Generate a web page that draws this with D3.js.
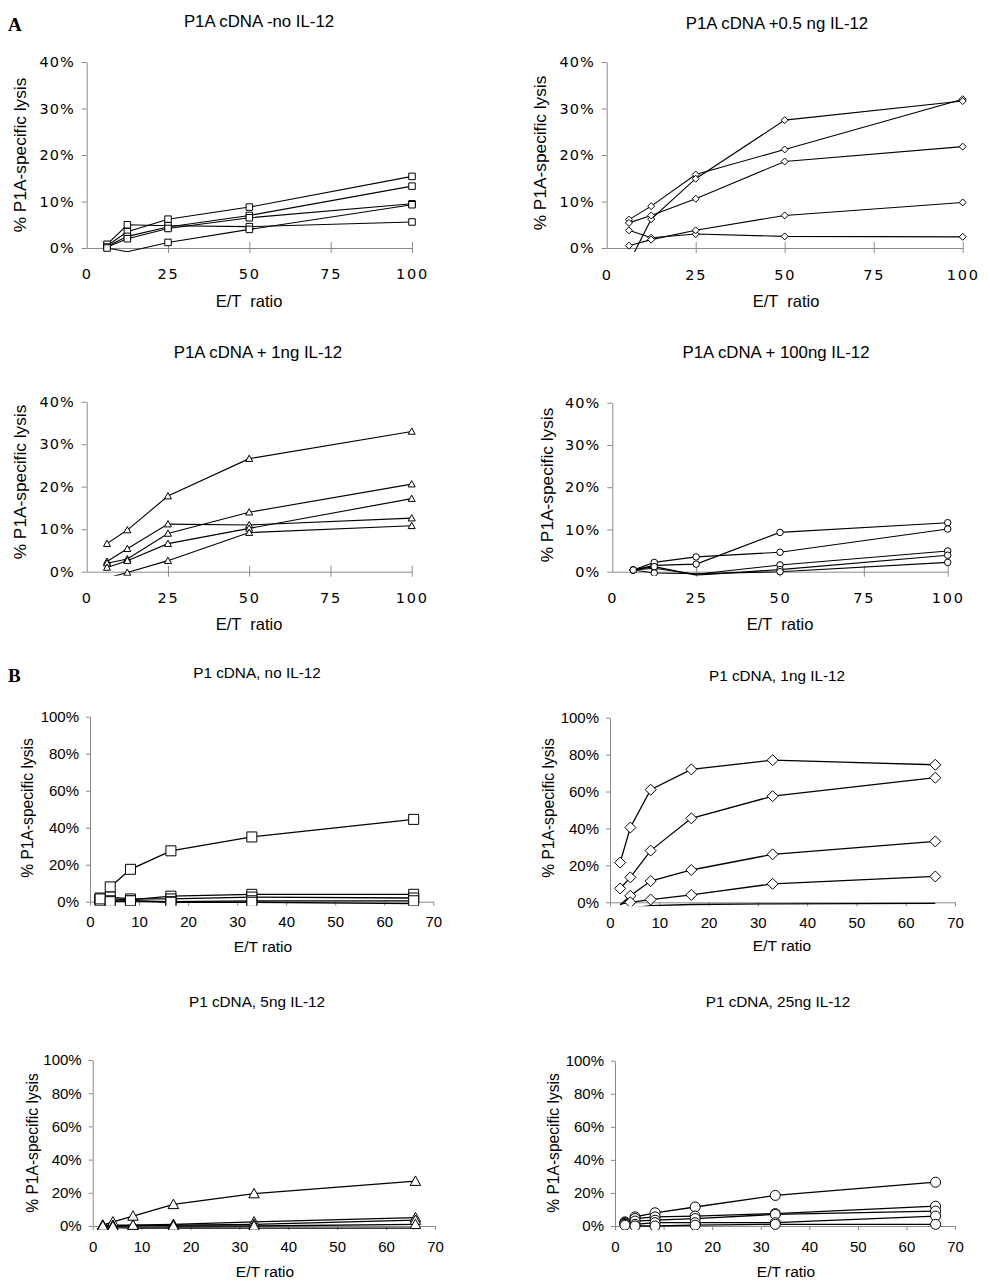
<!DOCTYPE html>
<html><head><meta charset="utf-8">
<script src="https://cdn.jsdelivr.net/npm/d3@7"></script>
<style>
body{margin:0;background:#fff;}
svg{display:block;}
</style></head>
<body>
<svg id="chart" width="990" height="1286"></svg>
<script>
// ---------------- DATA ----------------
const xA = [6.25, 12.5, 25, 50, 100];
const xB = [2.06, 4.125, 8.25, 16.5, 33, 66];

const xTicksA = [0, 25, 50, 75, 100];
const yTicksA = [0, 10, 20, 30, 40];
const xTicksB = [0, 10, 20, 30, 40, 50, 60, 70];
const yTicksB = [0, 20, 40, 60, 80, 100];

const titles = [
  "P1A cDNA -no IL-12", "P1A cDNA +0.5 ng IL-12",
  "P1A cDNA + 1ng IL-12", "P1A cDNA + 100ng IL-12",
  "P1 cDNA, no IL-12", "P1 cDNA, 1ng IL-12",
  "P1 cDNA, 5ng IL-12", "P1 cDNA, 25ng IL-12"
];
const yAxisLabel = "% P1A-specific lysis";
const xAxisLabelA = "E/T  ratio";
const xAxisLabelB = "E/T ratio";
const panelLetters = ["A", "B"];

// % lysis, one array per effector line
const a1Series = [
  [0.5, 3.5, 6.2, 8.8, 15.4],
  [0.3, 2.5, 4.5, 7.0, 13.3],
  [0.8, 5.0, 4.8, 4.6, 5.6],
  [0.2, 2.0, 4.2, 6.5, 9.5],
  [0.0, -0.8, 1.2, 4.0, 9.3]
];
const a2Series = [
  [6.1, 9.0, 15.8, 21.2, 32.0],
  [-3.2, 6.2, 14.9, 27.5, 31.6],
  [5.4, 7.0, 10.6, 18.6, 21.8],
  [3.8, 2.2, 3.0, 2.5, 2.4],
  [0.5, 1.8, 3.8, 7.0, 9.8]
];
const a3Series = [
  [6.6, 9.8, 17.8, 26.6, 33.0],
  [2.4, 5.4, 11.2, 11.0, 12.6],
  [2.0, 3.0, 9.0, 14.0, 20.6],
  [1.0, 2.6, 6.6, 10.2, 17.2],
  [-1.5, -0.2, 2.6, 9.2, 10.8]
];
const a4Series = [
  [0.4, 1.5, 1.8, 9.3, 11.6],
  [0.4, 2.2, 3.5, 4.6, 10.1],
  [0.4, 0.8, -0.6, 1.6, 4.9],
  [0.4, 1.2, -0.8, 0.5, 3.9],
  [0.4, -0.3, -0.5, 0.0, 2.2]
];
const b1Series = [
  [1.0, 8.0, 17.5, 27.5, 35.0, 44.5],
  [2.0, 1.5, 1.0, 3.0, 4.0, 4.0],
  [1.0, 2.5, 1.5, 1.5, 2.5, 2.0],
  [0.5, 0.5, 0.5, 0.0, 0.5, 0.5],
  [1.5, 0.0, 0.5, -0.3, -0.3, -1.0]
];
const b2Series = [
  [21.5, 40.5, 61.0, 72.0, 77.0, 74.5],
  [7.5, 13.5, 28.0, 45.5, 57.5, 67.5],
  [-1.5, 3.5, 11.5, 17.5, 26.0, 33.0],
  [-1.0, 0.0, 1.5, 4.0, 10.0, 14.0],
  [-4.0, -3.2, -1.8, -1.2, -0.8, -0.6]
];
const b3Series = [
  [0.5, 2.5, 6.0, 13.0, 19.5, 27.0],
  [0.5, 0.5, 0.5, 1.0, 2.5, 5.0],
  [0.2, 0.0, 0.0, 0.5, 1.0, 3.5],
  [0.0, -0.3, 0.5, 0.0, 0.0, 1.0],
  [0.0, -1.0, -1.2, -1.2, -1.3, -1.3]
];
const b4Series = [
  [2.5, 5.5, 8.0, 11.5, 18.5, 26.5],
  [2.0, 4.5, 5.5, 6.0, 7.5, 12.0],
  [1.5, 3.0, 3.5, 4.5, 7.0, 9.0],
  [1.0, 1.0, 2.0, 2.0, 2.0, 6.0],
  [0.5, 0.0, 0.0, 0.5, 1.0, 1.0]
];

// ---------------- LAYOUT ----------------
const svg = d3.select("#chart");

const customSquare = {draw(ctx, size){const r = Math.sqrt(size)/2; ctx.rect(-r,-r,2*r,2*r);}};
const customDiamond = {draw(ctx, size){const r = Math.sqrt(size)/2; ctx.moveTo(0,-r); ctx.lineTo(r,0); ctx.lineTo(0,r); ctx.lineTo(-r,0); ctx.closePath();}};
const customTriangle = {draw(ctx, size){const r = Math.sqrt(size)/2; ctx.moveTo(0,-r); ctx.lineTo(r,r*0.8); ctx.lineTo(-r,r*0.8); ctx.closePath();}};
const customCircle = {draw(ctx, size){const r = Math.sqrt(size)/2; ctx.moveTo(r,0); ctx.arc(0,0,r,0,2*Math.PI);}};

const panels = [
  {series:a1Series, xs:xA, type:"A", sym:customSquare, ms:6.5,
   x0:86.7, x1:412, yT:62, yB:248, tX:259, tY:27, tkY:279, xlX:249, xlY:307, ylX:20, ylY:155},
  {series:a2Series, xs:xA, type:"A", sym:customDiamond, ms:7,
   x0:606.7, x1:962.7, yT:62, yB:248, tX:777, tY:29, tkY:280, xlX:786, xlY:307, ylX:540, ylY:153},
  {series:a3Series, xs:xA, type:"A", sym:customTriangle, ms:7,
   x0:86.7, x1:411.7, yT:401.7, yB:571.7, tX:258, tY:358, tkY:603, xlX:249, xlY:630, ylX:20, ylY:482},
  {series:a4Series, xs:xA, type:"A", sym:customCircle, ms:6.5,
   x0:612.3, x1:947.7, yT:402.7, yB:571.7, tX:776, tY:358, tkY:603, xlX:780, xlY:630, ylX:547, ylY:485},
  {series:b1Series, xs:xB, type:"B", sym:customSquare, ms:10,
   x0:90, x1:433.3, yT:716.7, yB:901.7, tX:257, tY:678, tkY:927, xlX:263, xlY:952, ylX:27, ylY:808},
  {series:b2Series, xs:xB, type:"B", sym:customDiamond, ms:11,
   x0:610, x1:955, yT:717.7, yB:902.3, tX:777, tY:681, tkY:928, xlX:782, xlY:951, ylX:548, ylY:808},
  {series:b3Series, xs:xB, type:"B", sym:customTriangle, ms:10.5,
   x0:92.7, x1:435, yT:1060, yB:1226, tX:257, tY:1007, tkY:1252, xlX:265, xlY:1277, ylX:32, ylY:1143},
  {series:b4Series, xs:xB, type:"B", sym:customCircle, ms:10,
   x0:615, x1:955, yT:1060.7, yB:1226, tX:778, tY:1007, tkY:1252, xlX:786, xlY:1277, ylX:553, ylY:1143}
];

const axisColor = "#8a8a8a";
const fontA = "'Liberation Sans', Arial, sans-serif";
const tickFontA = "'DejaVu Sans', 'Liberation Sans', sans-serif";

panels.forEach((p, i) => {
  const isA = p.type === "A";
  const x = d3.scaleLinear().domain([0, isA ? 100 : 70]).range([p.x0, p.x1]);
  const y = d3.scaleLinear().domain([0, isA ? 40 : 100]).range([p.yB, p.yT]);
  const g = svg.append("g");

  // title
  g.append("text").attr("x", p.tX).attr("y", p.tY).attr("text-anchor", "middle")
    .style("font-family", fontA).style("font-size", isA ? "16.8px" : "15.3px").text(titles[i]);

  // y axis
  const yAx = g.append("g").attr("transform", `translate(${p.x0},0)`)
    .call(d3.axisLeft(y).tickValues(isA ? yTicksA : yTicksB).tickSizeOuter(0).tickSizeInner(isA ? 5 : 4)
      .tickFormat(d => d + "%"));
  yAx.select(".domain").attr("stroke", axisColor);
  yAx.selectAll(".tick line").attr("stroke", axisColor);
  yAx.selectAll(".tick text")
    .attr("x", isA ? -12 : -11)
    .style("font-family", isA ? tickFontA : fontA)
    .style("font-size", isA ? "14.5px" : "15px")
    .style("letter-spacing", isA ? "1px" : "0px")
    .attr("fill", "#000");

  // x axis
  const xAx = g.append("g").attr("transform", `translate(0,${p.yB})`)
    .call(d3.axisBottom(x).tickValues(isA ? xTicksA : xTicksB).tickSizeOuter(0).tickSizeInner(isA ? 5 : 4));
  xAx.select(".domain").attr("stroke", axisColor);
  xAx.selectAll(".tick line").attr("stroke", axisColor);
  if (isA) {
    xAx.selectAll(".tick line").attr("y1", -6).attr("y2", 5);
    xAx.selectAll(".tick").filter(d => d === 0).select("line").remove();
  }
  xAx.selectAll(".tick text")
    .attr("y", p.tkY - p.yB).attr("dy", 0)
    .style("font-family", isA ? tickFontA : fontA)
    .style("font-size", isA ? "14.5px" : "15px")
    .style("letter-spacing", isA ? "1.8px" : "0px")
    .attr("fill", "#000");

  // axis titles
  g.append("text").attr("x", p.xlX).attr("y", p.xlY).attr("text-anchor", "middle")
    .style("font-family", fontA).style("font-size", isA ? "16.5px" : "15.5px")
    .style("white-space", "pre").attr("xml:space", "preserve")
    .text(isA ? xAxisLabelA : xAxisLabelB);
  g.append("text").attr("transform", `translate(${p.ylX},${p.ylY}) rotate(-90)`)
    .attr("text-anchor", "middle").attr("dominant-baseline", "central")
    .style("font-family", fontA).style("font-size", isA ? "17.3px" : "15.6px")
    .text(yAxisLabel);

  // clip
  const clipId = "clip" + i;
  svg.append("clipPath").attr("id", clipId).append("rect")
    .attr("x", p.x0 - 10).attr("y", p.yT - 10)
    .attr("width", p.x1 - p.x0 + 20).attr("height", p.yB - p.yT + 14);

  const line = d3.line().x((d, j) => x(p.xs[j])).y(d => y(d));
  const plot = g.append("g").attr("clip-path", `url(#${clipId})`);
  plot.selectAll("path.series").data(p.series).enter().append("path")
    .attr("class", "series").attr("d", line)
    .attr("fill", "none").attr("stroke", "#000").attr("stroke-width", isA ? 1.1 : 1.3);

  const sym = d3.symbol().type(p.sym).size(p.ms * p.ms);
  p.series.forEach(s => {
    plot.selectAll(null).data(s.map((v, j) => ({v, xv: p.xs[j]})).filter(d => d.v > -0.45))
      .enter().append("path")
      .attr("transform", d => `translate(${x(d.xv)},${y(d.v)})`)
      .attr("d", sym).attr("fill", "#fff").attr("stroke", "#000").attr("stroke-width", 1);
  });
});

// panel letters
svg.append("text").attr("x", 8).attr("y", 31).text(panelLetters[0])
  .style("font-family", "'Liberation Serif', 'Times New Roman', serif").style("font-weight", "bold").style("font-size", "19px");
svg.append("text").attr("x", 8).attr("y", 682).text(panelLetters[1])
  .style("font-family", "'Liberation Serif', 'Times New Roman', serif").style("font-weight", "bold").style("font-size", "19px");
</script>
</body></html>
